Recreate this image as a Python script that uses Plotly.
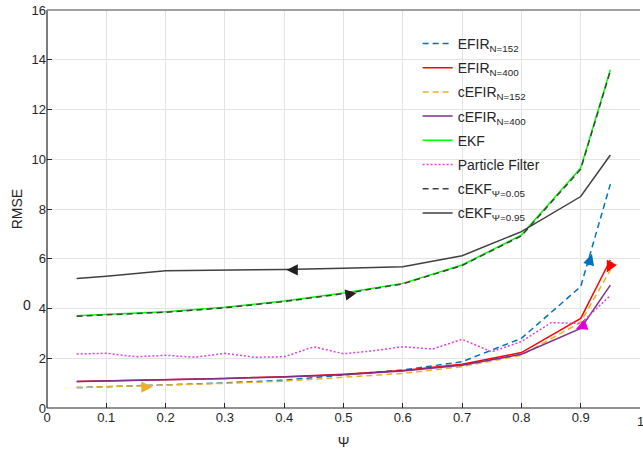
import plotly.graph_objects as go

psi = [0.05, 0.1, 0.2, 0.3, 0.4, 0.5, 0.6, 0.7, 0.8, 0.9, 0.95]
efir_152 = [0.82, 0.85, 0.93, 1.01, 1.12, 1.33, 1.53, 1.86, 2.8, 4.88, 9.0]
efir_400 = [1.07, 1.09, 1.15, 1.19, 1.26, 1.36, 1.51, 1.76, 2.23, 3.6, 5.95]
cefir_152 = [0.82, 0.85, 0.92, 0.99, 1.08, 1.22, 1.39, 1.66, 2.12, 3.45, 5.55]
cefir_400 = [1.07, 1.09, 1.15, 1.19, 1.25, 1.34, 1.49, 1.72, 2.16, 3.2, 4.94]
ekf = [3.71, 3.76, 3.87, 4.05, 4.3, 4.62, 5.01, 5.75, 6.95, 9.65, 13.6]
cekf_005 = [3.69, 3.74, 3.85, 4.03, 4.28, 4.6, 4.99, 5.73, 6.92, 9.6, 13.55]
cekf_095 = [5.21, 5.3, 5.52, 5.54, 5.57, 5.62, 5.68, 6.12, 7.09, 8.5, 10.17]

psi_pf = [0.05, 0.1, 0.15, 0.2, 0.25, 0.3, 0.35, 0.4, 0.45, 0.5, 0.55,
          0.6, 0.65, 0.7, 0.75, 0.8, 0.85, 0.9, 0.95]
pf = [2.17, 2.2, 2.06, 2.12, 2.04, 2.2, 2.04, 2.06, 2.46, 2.18, 2.3,
      2.46, 2.37, 2.76, 2.26, 2.67, 3.43, 3.4, 4.52]

x_ticks = [0, 0.1, 0.2, 0.3, 0.4, 0.5, 0.6, 0.7, 0.8, 0.9]
x_ticklabels = ["0", "0.1", "0.2", "0.3", "0.4", "0.5", "0.6", "0.7", "0.8", "0.9"]
x_last_label = "1"
y_ticks = [0, 2, 4, 6, 8, 10, 12, 14, 16]

fig = go.Figure()

def add(x, y, name, color, dash="solid", width=1.5):
    fig.add_trace(go.Scatter(x=x, y=y, mode="lines", name=name, legendgroup=name,
                             line=dict(color=color, dash=dash, width=width)))

add(psi, efir_152, "EFIR<sub>N=152</sub>", "#0072BD", "6px,4px")
add(psi, efir_400, "EFIR<sub>N=400</sub>", "#FF0000")
add(psi, cefir_152, "cEFIR<sub>N=152</sub>", "#EDB120", "6px,4px")
add(psi, cefir_400, "cEFIR<sub>N=400</sub>", "#7E2F8E")
add(psi, ekf, "EKF", "#00FF00")
add(psi_pf, pf, "Particle Filter", "#E040E0", "2px,2px")
add(psi, cekf_005, "cEKF<sub>Ψ=0.05</sub>", "#404040", "6px,4px")
add(psi, cekf_095, "cEKF<sub>Ψ=0.95</sub>", "#404040")

arrows = [
    (0.404, 5.55, 12, 0, "#202020"),
    (0.522, 4.62, -12, 2, "#202020"),
    (0.178, 0.84, -12, 0, "#EDB120"),
    (0.919, 6.2, -4, 13, "#0072BD"),
    (0.944, 5.45, 6, -12, "#FF0000"),
    (0.892, 3.18, 12, -5, "#DD00DD"),
]
for ax_, ay_, dx, dy, c in arrows:
    fig.add_annotation(x=ax_, y=ay_, ax=dx, ay=dy, text="", showarrow=True,
                       arrowhead=2, arrowsize=1.5, arrowwidth=1.5, arrowcolor=c,
                       standoff=0)

fig.add_annotation(xref="paper", yref="paper", x=-0.034, y=0.259, text="0",
                   xanchor="center", yanchor="middle",
                   showarrow=False, font=dict(size=14, color="#262626"))
# last x tick label at the right edge (partly clipped in the original)
fig.add_annotation(xref="x", yref="paper", x=1.0, y=-0.035, text=x_last_label,
                   xanchor="center", yanchor="middle",
                   showarrow=False, font=dict(size=13, color="#262626"))

# white legend background (hides gridlines only)
fig.add_shape(type="rect", xref="paper", yref="paper", x0=0.61, x1=0.797,
              y0=0.452, y1=0.955, layer="below",
              fillcolor="white", line=dict(width=0))

# axis frame lines
fig.add_shape(type="line", xref="paper", yref="paper", x0=0, x1=0, y0=0, y1=1,
              line=dict(color="#262626", width=1.2))
fig.add_shape(type="line", xref="paper", yref="paper", x0=0, x1=1, y0=0, y1=0,
              line=dict(color="#262626", width=1.2))
fig.add_shape(type="line", xref="paper", yref="paper", x0=0, x1=1, y0=1, y1=1,
              line=dict(color="#808080", width=1.5))

fig.update_layout(
    width=643, height=453,
    margin=dict(l=47, r=3, t=10, b=45),
    paper_bgcolor="white", plot_bgcolor="white",
    font=dict(family="Liberation Sans, Arial, sans-serif", size=13, color="#262626"),
    showlegend=True,
    legend=dict(x=0.625, y=0.955, xanchor="left", yanchor="top",
                bgcolor="rgba(0,0,0,0)", borderwidth=0, font=dict(size=14),
                tracegroupgap=3),
    xaxis=dict(range=[0, 1], tickvals=x_ticks, ticktext=x_ticklabels,
               showgrid=True, gridcolor="#e3e3e3", gridwidth=1,
               ticks="inside", ticklen=5, tickcolor="#262626",
               showline=False, zeroline=False,
               title=dict(text="Ψ", standoff=13, font=dict(size=14)),
               tickfont=dict(size=13)),
    yaxis=dict(range=[0, 16], tickvals=y_ticks,
               showgrid=True, gridcolor="#e3e3e3", gridwidth=1,
               ticks="inside", ticklen=5, tickcolor="#262626",
               showline=False, zeroline=False,
               title=dict(text="RMSE", standoff=5, font=dict(size=14)),
               tickfont=dict(size=13)),
    yaxis2=dict(range=[0, 16], tickvals=y_ticks, overlaying="y", side="right",
                showticklabels=False, ticks="inside", ticklen=5,
                tickcolor="#555555", showgrid=False, zeroline=False, showline=False),
)

fig.write_html("out.html", config={"displayModeBar": False},
               post_script="document.body.style.margin='0';")
